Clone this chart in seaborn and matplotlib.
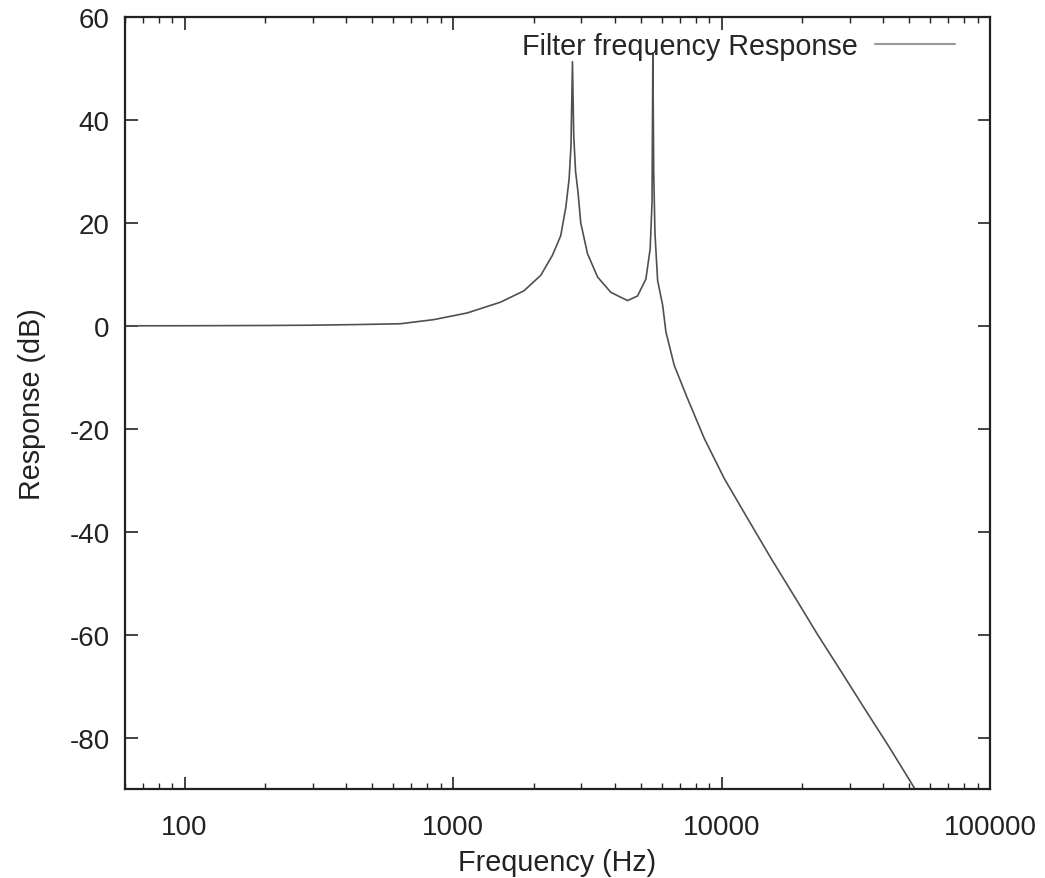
import matplotlib
matplotlib.use("Agg")
import matplotlib.pyplot as plt
import matplotlib.ticker as mticker
import seaborn as sns
import pandas as pd

# Data
freq_hz = [60, 100, 200, 300, 450, 637, 848, 1130, 1504, 1837, 2121, 2345,
           2518, 2630, 2706, 2750, 2785, 2815, 2860, 2920, 2990, 3169, 3452,
           3870, 4467, 4867, 5228, 5424, 5510, 5550, 5590, 5650, 5781, 6036,
           6208, 6667, 7481, 8628, 10244, 12527, 15299, 18695, 22856, 27923,
           34118, 41714, 50210, 60000]
response_db = [0.0, 0.01, 0.06, 0.12, 0.25, 0.4, 1.2, 2.5, 4.6, 6.8, 9.8, 13.7,
               17.5, 23.0, 28.5, 35.0, 51.3, 37.0, 30.0, 26.0, 20.0, 14.0, 9.5,
               6.5, 4.9, 5.8, 9.1, 15.0, 24.0, 53.0, 30.0, 18.0, 8.8, 4.0,
               -1.2, -7.7, -14.2, -21.9, -29.7, -37.5, -45.2, -52.6, -60.1, -67.2,
               -74.4, -81.5, -88.3, -95.0]
series_label = "Filter frequency Response"
x_tick_values = [100, 1000, 10000, 100000]
x_tick_labels = ["100", "1000", "10000", "100000"]
y_tick_values = [-80, -60, -40, -20, 0, 20, 40, 60]

df = pd.DataFrame({"Frequency": freq_hz, "Response": response_db,
                   "series": series_label})

sns.set_theme(style="ticks")
plt.rcParams["font.family"] = ["Liberation Sans", "DejaVu Sans"]

fig = plt.figure(figsize=(10.45, 8.79), dpi=100)
ax = fig.add_axes([125 / 1045, 1 - 790 / 879, 865 / 1045, 772 / 879])

sns.lineplot(data=df, x="Frequency", y="Response", hue="series",
             palette=["#505050"], linewidth=1.2, estimator=None, sort=False,
             ax=ax)

ax.set_xscale("log")
ax.set_xlim(60, 100000)
ax.set_ylim(-90, 60)
ax.set_xticks(x_tick_values)
ax.set_xticklabels(x_tick_labels)
ax.xaxis.set_minor_locator(mticker.LogLocator(base=10, subs=range(2, 10), numticks=20))
ax.xaxis.set_minor_formatter(mticker.NullFormatter())
ax.set_yticks(y_tick_values)
ax.set_yticklabels([str(v) for v in y_tick_values])

for side in ["top", "right", "bottom", "left"]:
    ax.spines[side].set_visible(True)
    ax.spines[side].set_color("#222222")
    ax.spines[side].set_linewidth(1.6)

ax.tick_params(axis="both", which="major", direction="in", length=9, width=1.2,
               top=True, right=True, labelsize=20, colors="#222222")
ax.tick_params(axis="x", which="major", pad=18)
ax.tick_params(axis="y", which="major", pad=11)
ax.tick_params(axis="x", which="minor", direction="in", length=4.5, width=1.0,
               top=True, bottom=True, colors="#222222")
ax.tick_params(axis="y", which="minor", left=False, right=False)

ax.set_xlabel("Frequency (Hz)", fontsize=20.7, labelpad=6, color="#222222")
ax.set_ylabel("Response (dB)", fontsize=20.7, labelpad=17, color="#222222")

leg = ax.legend(loc="center right", bbox_to_anchor=((955 - 125) / 865, (790 - 47) / 772),
                frameon=False, markerfirst=False, borderpad=0, borderaxespad=0,
                handlelength=2.8, handletextpad=0.6, fontsize=20.7)
for line in leg.get_lines():
    line.set_color("#999999")
    line.set_linewidth(1.5)

fig.savefig("out.png", dpi=100, facecolor="white")
